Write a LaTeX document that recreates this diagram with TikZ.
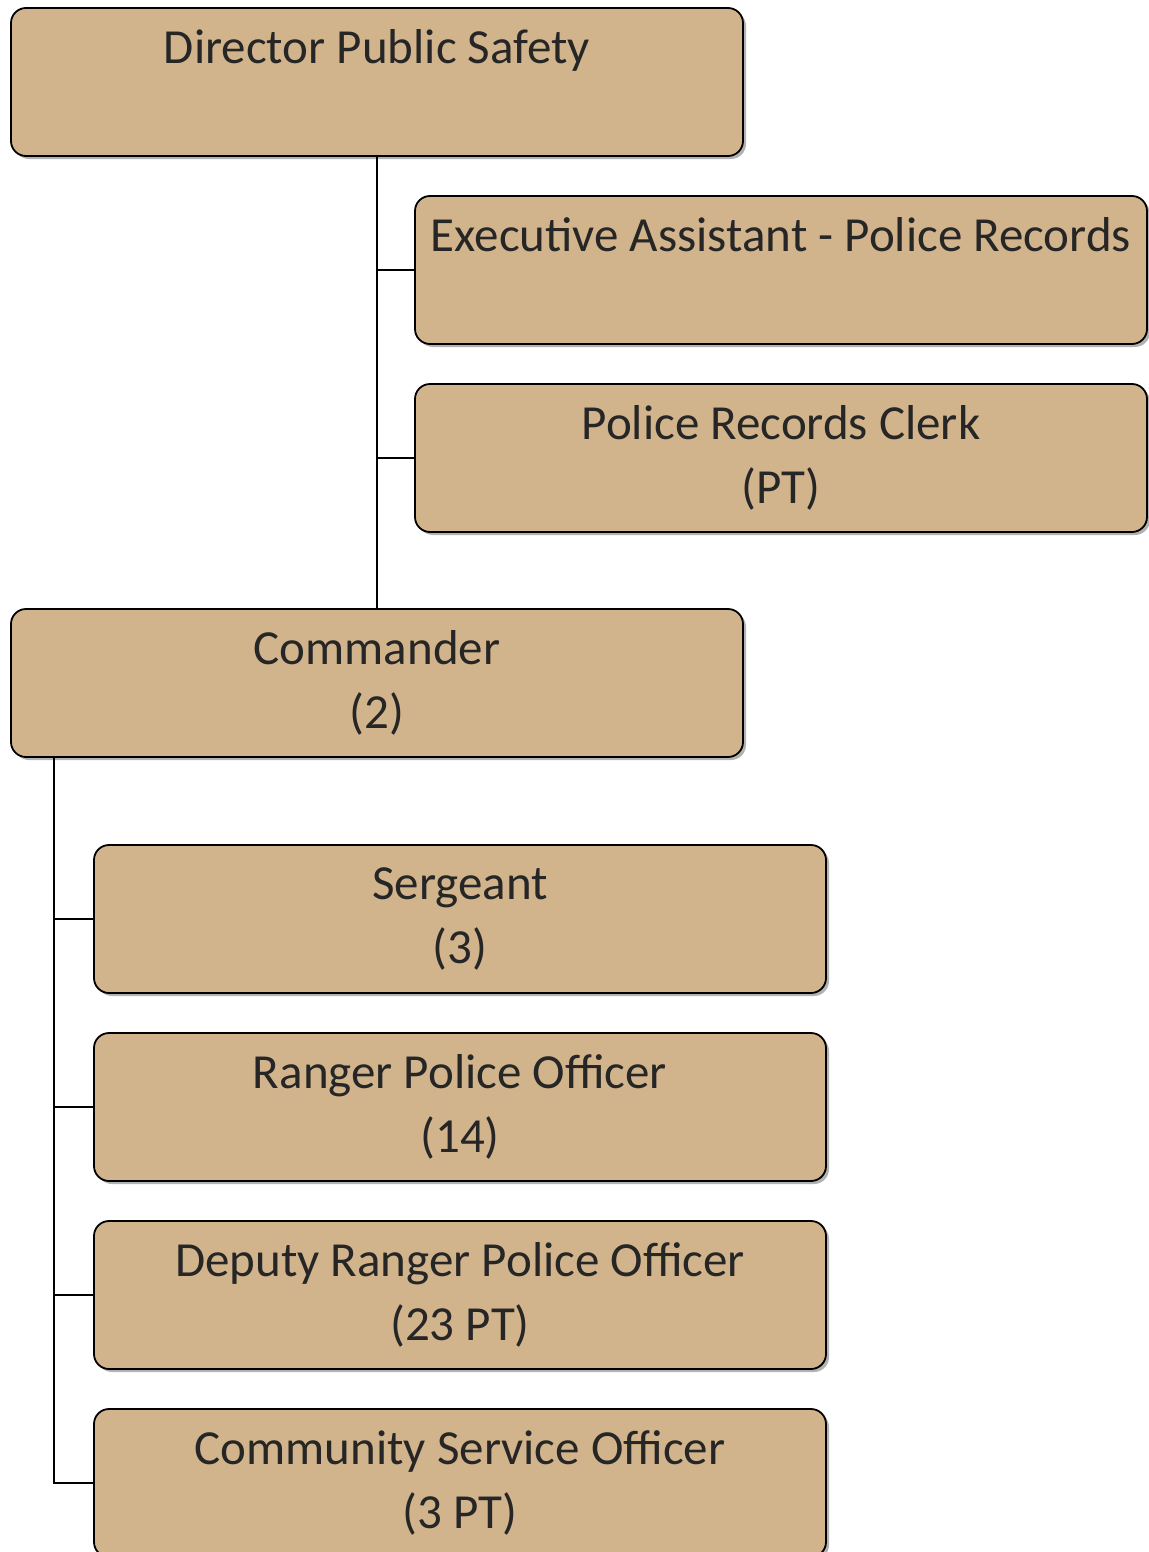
\documentclass[tikz,border=0pt]{standalone}
\usepackage{fontspec}
\setmainfont{Carlito}
\usetikzlibrary{shadows}
\definecolor{tan}{HTML}{D2B48C}
\definecolor{ink}{HTML}{262626}

\tikzset{
  post/.style={draw=black, line width=1.8pt, fill=tan, rounded corners=15pt,
    minimum width=732pt, minimum height=148pt, align=center, text=ink,
    font=\fontsize{49}{64}\selectfont, inner sep=0pt,
    drop shadow={shadow xshift=3pt, shadow yshift=-3pt, fill=black!30, opacity=1}},
  link/.style={line width=1.4pt}
}

\begin{document}
\begin{tikzpicture}[x=1pt,y=-1pt]
  \useasboundingbox (0,0) rectangle (1148,1552);
      \coordinate (D) at (377, 82);
         \coordinate (E) at (781, 270);
           \coordinate (R) at (781, 458);
      \coordinate (C) at (377, 683);
         \coordinate (S) at (460, 919);
           \coordinate (P) at (460, 1107);
             \coordinate (Q) at (460, 1295);
               \coordinate (V) at (460, 1483);
  \node[post] (dir) at (D) {Director Public Safety\\ \vphantom{()}};
  \node[post] (exec) at (E) {Executive Assistant - Police Records\\ \vphantom{()}};
  \node[post] (clerk) at (R) {Police Records Clerk\\(PT)};
  \node[post] (cmd) at (C) {Commander\\(2)};
  \node[post] (sgt) at (S) {Sergeant\\(3)};
  \node[post] (rpo) at (P) {Ranger Police Officer\\(14)};
  \node[post] (drpo) at (Q) {Deputy Ranger Police Officer\\(23 PT)};
  \node[post] (cso) at (V) {Community Service Officer\\(3 PT)};
  \draw[link] (dir.south) -- (cmd.north);
  \draw[link] (dir.south |- exec.west) -- (exec.west)
              (dir.south |- clerk.west) -- (clerk.west);
     \coordinate (T) at ([xshift=-39pt]sgt.west |- cmd.south);
  \draw[link] (T) -- (T |- cso.west) -- (cso.west)
              (T |- sgt.west) -- (sgt.west)
              (T |- rpo.west) -- (rpo.west)
              (T |- drpo.west) -- (drpo.west);
\end{tikzpicture}
\end{document}
